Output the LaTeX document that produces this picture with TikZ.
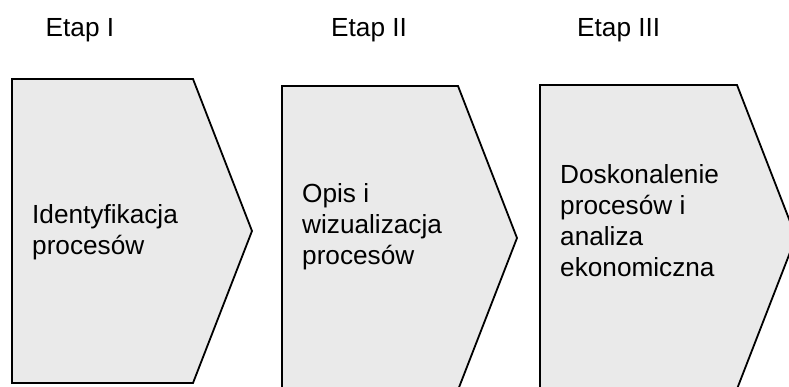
\documentclass[tikz,border=0pt]{standalone}
\usepackage{fontspec}
\setmainfont{Liberation Sans}
\usepackage{xcolor}
\definecolor{stagegray}{RGB}{234,234,234}

\begin{document}
\begin{tikzpicture}[x=1pt, y=-1pt,
  stage/.style={fill=stagegray, draw=black, line width=1.8pt, line join=miter},
  stagetext/.style={anchor=north west, align=left, inner sep=0pt, font=\labelfontsize},
  etaplabel/.style={anchor=base west, inner sep=0pt, font=\labelfontsize}]
\def\tipwidth{59}
\def\stageheight{304}
\def\labelfontsize{\fontsize{26.2}{31}\selectfont}
\useasboundingbox (0,0) rectangle (789,387);
\clip (0,0) rectangle (789,387);

\node (etapone) [etaplabel] at (45.5, 37) {Etap I};
\node (etaptwo) [etaplabel] at (331, 37) {Etap II};
\node (etapthree) [etaplabel] at (577, 37) {Etap III};

\begin{scope}[shift={(12, 79)}] % FIRST STAGE
\def\bodywidth{181}
\draw[stage] (0, 0) -- (\bodywidth, 0) -- (\bodywidth+\tipwidth, 0.5*\stageheight) -- (\bodywidth, \stageheight) -- (0, \stageheight) -- cycle;
\node (stageone) [stagetext] at (20, 125) {Identyfikacja\\procesów};
\end{scope}

\begin{scope}[shift={(282, 86)}] % SECOND STAGE
\def\bodywidth{176}
\draw[stage] (0, 0) -- (\bodywidth, 0) -- (\bodywidth+\tipwidth, 0.5*\stageheight) -- (\bodywidth, \stageheight) -- (0, \stageheight) -- cycle;
\node (stagetwo) [stagetext] at (20, 97) {Opis i\\wizualizacja\\procesów};
\end{scope}

\begin{scope}[shift={(540, 85)}] % THIRD STAGE
\def\bodywidth{197}
\draw[stage] (0, 0) -- (\bodywidth, 0) -- (\bodywidth+\tipwidth, 0.5*\stageheight) -- (\bodywidth, \stageheight) -- (0, \stageheight) -- cycle;
\node (stagethree) [stagetext] at (20, 79) {Doskonalenie\\procesów i\\analiza\\ekonomiczna};
\end{scope}

\end{tikzpicture}
\end{document}
